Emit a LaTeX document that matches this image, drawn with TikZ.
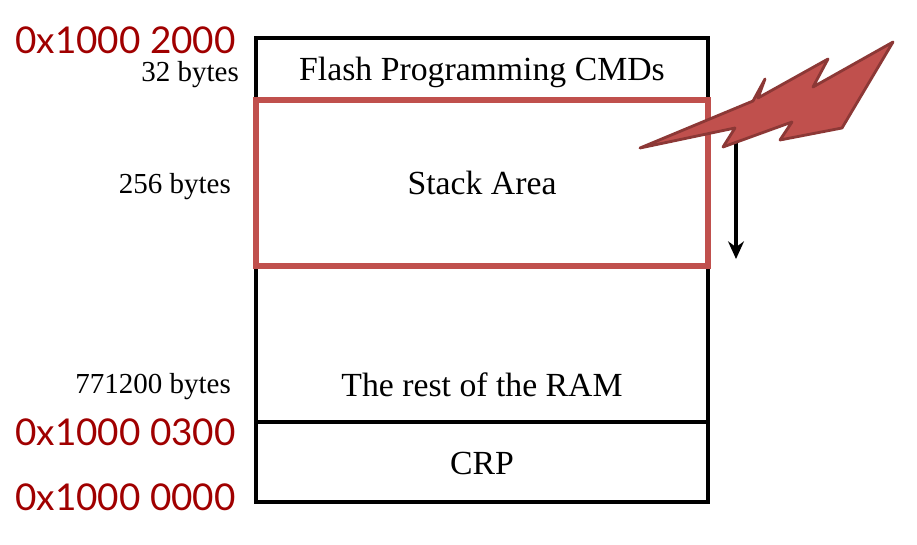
\documentclass[tikz,border=0pt]{standalone}
\usepackage{fontspec}
\usetikzlibrary{arrows.meta}
\setmainfont{Liberation Serif}
\newfontfamily\hexfont{Lato}
\definecolor{addrred}{HTML}{A00000}
\definecolor{boltred}{HTML}{C0504D}
\definecolor{boltedge}{HTML}{8C3836}
\begin{document}
\begin{tikzpicture}
\useasboundingbox (0,0) rectangle (18.34,10.88);
\tikzset{
  region/.style={draw, line width=2.2pt, minimum width=9.04cm, inner sep=0pt},
  addr/.style={anchor=east, color=addrred, font=\hexfont\fontsize{21}{24}\selectfont},
  size/.style={anchor=east, font=\fontsize{16.5}{19}\selectfont},
  txt/.style={font=\fontsize{19.2}{22}\selectfont}
}
\node (Flash) at (9.64,9.5) [region, minimum height=1.24cm]{};
\node (Rest) at (9.64,4.0) [region, minimum height=3.12cm]{};
\node (CRP) at (9.64,1.64) [region, minimum height=1.6cm]{};
\node (Stack) at (9.64,7.22) [draw=boltred, fill=white, line width=3.6pt, minimum width=9.04cm, minimum height=3.32cm]{};

\node (Flash-t) at (9.64,9.44) [txt]{Flash Programming CMDs};
\node (Stack-t) at (9.64,7.22) [txt]{Stack Area};
\node (Rest-t) at (9.64,3.18) [txt]{The rest of the RAM};
\node (CRP-t) at (9.64,1.62) [txt]{CRP};

\node (A-top) at (4.84,10.08) [addr]{0x1000 2000};
\node (A-mid) at (4.84,2.24) [addr]{0x1000 0300};
\node (A-bot) at (4.84,0.94) [addr]{0x1000 0000};

\node (S-1) at (4.9,9.38) [size]{32 bytes};
\node (S-2) at (4.74,7.14) [size]{256 bytes};
\node (S-3) at (4.74,3.14) [size]{771200 bytes};

\coordinate (G-1) at (14.72,8.08);
\coordinate (G-2) at (14.72,5.7);
\draw [-{Stealth[length=10pt,width=9pt]}, line width=1.8pt] (G-1) -- (G-2);

\filldraw [fill=boltred, draw=boltedge, line width=1.6pt, line join=round]
  (12.8,7.92) -- (15.06,8.86) -- (15.3,9.3) -- (15.16,8.92) -- (16.56,9.7)
  -- (16.26,9.14) -- (17.86,10.04) -- (16.84,8.32) -- (15.6,8.08)
  -- (15.84,8.44) -- (14.46,7.94) -- (14.7,8.32) -- cycle;
\end{tikzpicture}
\end{document}
